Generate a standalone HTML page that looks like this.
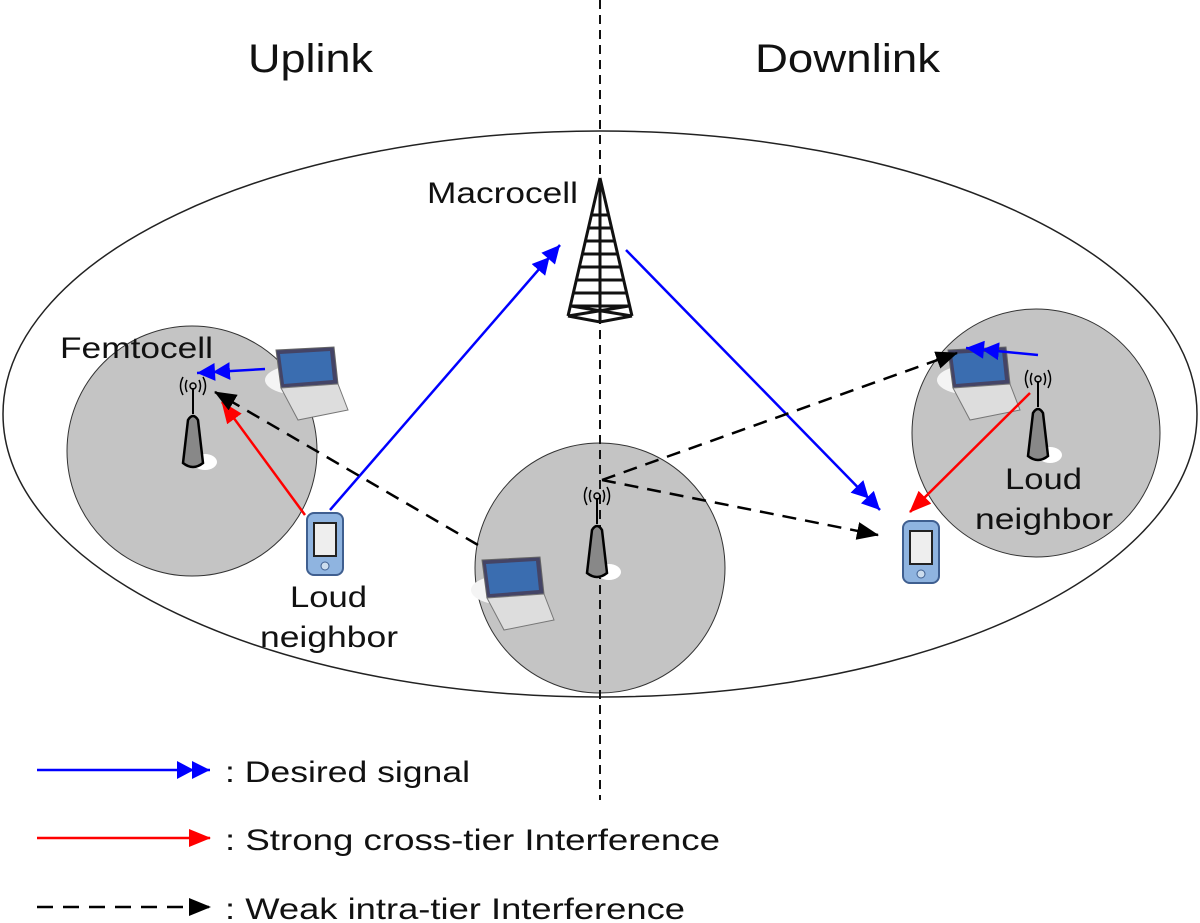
<!DOCTYPE html>
<html><head><style>body{margin:0;background:#fff}svg{display:block}text{font-family:"Liberation Sans",sans-serif;fill:#111}</style></head><body>
<svg width="1200" height="923" viewBox="0 0 1200 923" xmlns="http://www.w3.org/2000/svg">
<defs>
<marker id="rd" markerWidth="22" markerHeight="18" refX="21" refY="9" orient="auto" markerUnits="userSpaceOnUse"><path d="M0,0L22,9L0,18z" fill="#ff0000"/></marker>
<marker id="bk" markerWidth="22" markerHeight="18" refX="21" refY="9" orient="auto" markerUnits="userSpaceOnUse"><path d="M0,0L22,9L0,18z" fill="#000"/></marker>
<marker id="bb" markerWidth="34" markerHeight="18" refX="33" refY="9" orient="auto" markerUnits="userSpaceOnUse"><path d="M0,0L17,9L0,18zM15,0L33,9L15,18z" fill="#0000ff"/></marker>
</defs>
<ellipse cx="600" cy="414" rx="597" ry="283" fill="none" stroke="#222" stroke-width="1.5"/>
<circle cx="192" cy="451" r="125" fill="#c4c4c4" stroke="#333" stroke-width="1"/>
<circle cx="600" cy="568" r="125" fill="#c4c4c4" stroke="#333" stroke-width="1"/>
<circle cx="1036" cy="433" r="124" fill="#c4c4c4" stroke="#333" stroke-width="1"/>
<line x1="600" y1="0" x2="600" y2="800" stroke="#111" stroke-width="2" stroke-dasharray="9,6"/>
<g lengthAdjust="spacingAndGlyphs">
<text x="248" y="72" font-size="40" textLength="125" lengthAdjust="spacingAndGlyphs">Uplink</text>
<text x="755" y="72" font-size="40" textLength="185" lengthAdjust="spacingAndGlyphs">Downlink</text>
<text x="427" y="203" font-size="30" textLength="151" lengthAdjust="spacingAndGlyphs">Macrocell</text>
<text x="60" y="358" font-size="30" textLength="153" lengthAdjust="spacingAndGlyphs">Femtocell</text>
<text x="290" y="607" font-size="30" textLength="77" lengthAdjust="spacingAndGlyphs">Loud</text>
<text x="260" y="647" font-size="30" textLength="138" lengthAdjust="spacingAndGlyphs">neighbor</text>
<text x="1005" y="489" font-size="30" textLength="77" lengthAdjust="spacingAndGlyphs">Loud</text>
<text x="975" y="529" font-size="30" textLength="138" lengthAdjust="spacingAndGlyphs">neighbor</text>
</g>
<!-- tower -->
<g stroke="#111" stroke-width="3" fill="none">
<path d="M600,178 L568,316 M600,178 L632,316 M600,178 L600,322"/>
<path d="M592,215L608,215M589,228L611,228M586,241L614,241M583,254L617,254M580,267L620,267M577,280L623,280M574,293L626,293M571,306L629,306"/>
<path d="M568,316L600,322L632,316M571,306L632,316M629,306L568,316"/>
</g>
<!-- femto antennas -->
<g id="fa">
<ellipse cx="205" cy="462" rx="12" ry="8" fill="#fff"/>
<path d="M183,463 L188,420 Q193,412 198,420 L203,463 Q193,471 183,463z" fill="#888" stroke="#000" stroke-width="2.5"/>
<line x1="193" y1="414" x2="193" y2="388" stroke="#000" stroke-width="2"/>
<circle cx="193" cy="386" r="3" fill="none" stroke="#000" stroke-width="1.5"/>
<path d="M187,380 Q184,386 187,392 M199,380 Q202,386 199,392 M183,377 Q178,386 183,395 M203,377 Q208,386 203,395" fill="none" stroke="#000" stroke-width="1.5"/>
</g>
<use href="#fa" transform="translate(404,110)"/>
<use href="#fa" transform="translate(845,-7)"/>
<!-- laptops -->
<g id="lp">
<ellipse cx="300" cy="380" rx="35" ry="15" fill="#f4f4f4"/>
<path d="M276,350 L334,347 L338,384 L281,388z" fill="#446" stroke="#666"/>
<path d="M280,354 L330,351 L333,380 L284,384z" fill="#3a6db0"/>
<path d="M281,388 L338,384 L348,410 L298,420z" fill="#ddd" stroke="#777"/>
</g>
<use href="#lp" transform="translate(672,0)"/>
<use href="#lp" transform="translate(206,210)"/>
<!-- phones -->
<g id="ph">
<rect x="307" y="513" width="36" height="62" rx="7" fill="#8fb4e0" stroke="#3f5f90" stroke-width="2"/>
<rect x="314" y="523" width="22" height="33" fill="#eee" stroke="#222" stroke-width="2"/>
<circle cx="325" cy="566" r="4" fill="#cde" stroke="#3f5f90"/>
</g>
<use href="#ph" transform="translate(596,8)"/>
<!-- arrows -->
<line x1="330" y1="510" x2="560" y2="245" stroke="#0000ff" stroke-width="2.5" marker-end="url(#bb)"/>
<line x1="265" y1="369" x2="197" y2="373" stroke="#0000ff" stroke-width="2.5" marker-end="url(#bb)"/>
<line x1="626" y1="250" x2="880" y2="510" stroke="#0000ff" stroke-width="2.5" marker-end="url(#bb)"/>
<line x1="1038" y1="355" x2="966" y2="348" stroke="#0000ff" stroke-width="2.5" marker-end="url(#bb)"/>
<line x1="305" y1="515" x2="222" y2="402" stroke="#ff0000" stroke-width="2.5" marker-end="url(#rd)"/>
<line x1="1030" y1="393" x2="910" y2="512" stroke="#ff0000" stroke-width="2.5" marker-end="url(#rd)"/>
<g stroke="#000" stroke-width="2.5" stroke-dasharray="14,9" fill="none">
<line x1="478" y1="545" x2="215" y2="392" marker-end="url(#bk)"/>
<line x1="602" y1="480" x2="957" y2="353" marker-end="url(#bk)"/>
<line x1="602" y1="480" x2="878" y2="535" marker-end="url(#bk)"/>
</g>
<!-- legend -->
<line x1="37" y1="770" x2="210" y2="770" stroke="#0000ff" stroke-width="2.5" marker-end="url(#bb)"/>
<text x="225" y="782" font-size="30" textLength="245" lengthAdjust="spacingAndGlyphs">: Desired signal</text>
<line x1="37" y1="838" x2="210" y2="838" stroke="#ff0000" stroke-width="2.5" marker-end="url(#rd)"/>
<text x="225" y="850" font-size="30" textLength="495" lengthAdjust="spacingAndGlyphs">: Strong cross-tier Interference</text>
<line x1="37" y1="907" x2="210" y2="907" stroke="#000" stroke-width="2.5" stroke-dasharray="16,10" marker-end="url(#bk)"/>
<text x="225" y="919" font-size="30" textLength="460" lengthAdjust="spacingAndGlyphs">: Weak intra-tier Interference</text>
</svg>
</body></html>
